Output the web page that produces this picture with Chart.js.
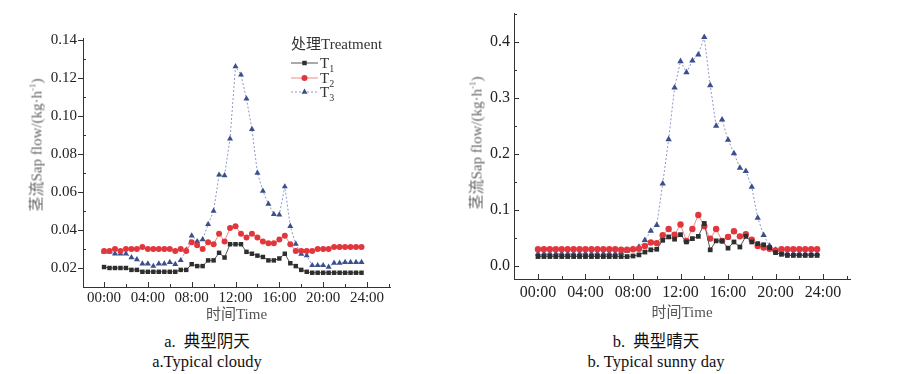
<!DOCTYPE html>
<html>
<head>
<meta charset="utf-8">
<script src="https://cdn.jsdelivr.net/npm/chart.js@4.4.1/dist/chart.umd.min.js"></script>
<style>
  body { margin: 0; background: #fff; width: 916px; height: 374px; position: relative; overflow: hidden;
         font-family: "Liberation Serif", "Times New Roman", "Noto Sans CJK SC", serif; color: #222; }
  .box { position: absolute; }
  .ytitle { position: absolute; white-space: nowrap; font-size: 15px; color: #666;
            transform: translate(-50%, -50%) rotate(-90deg); }
  .ytitle sup { font-size: 9px; }
  .cap { position: absolute; width: 260px; text-align: center; font-size: 16.5px; line-height: 20px; color: #111; }
  .leg { position: absolute; font-size: 15px; line-height: 16px; color: #333; white-space: nowrap; }
  .leg sub { font-size: 10px; }
</style>
</head>
<body>
<div class="box" style="left:0;top:0;width:400px;height:325px"><canvas id="cloudy"></canvas></div>
<div class="box" style="left:440px;top:0;width:440px;height:325px"><canvas id="sunny"></canvas></div>

<div class="ytitle" style="left:35px;top:145px">茎流Sap flow/(kg·h<sup>-1</sup>)</div>
<div class="ytitle" style="left:475px;top:143px">茎流Sap flow/(kg·h<sup>-1</sup>)</div>

<div class="leg" style="left:291px;top:36px">处理Treatment</div>
<div class="leg" style="left:320px;top:55px">T<sub>1</sub></div>
<div class="leg" style="left:320px;top:70px">T<sub>2</sub></div>
<div class="leg" style="left:320px;top:84px">T<sub>3</sub></div>

<div class="cap" style="left:77px;top:332px">a.&nbsp; 典型阴天</div>
<div class="cap" style="left:77px;top:352px">a.Typical cloudy</div>
<div class="cap" style="left:526px;top:332px">b.&nbsp; 典型晴天</div>
<div class="cap" style="left:526px;top:352px">b. Typical sunny day</div>

<script>
// half-hourly sampling times
const times = [
  '00:00','00:30','01:00','01:30','02:00','02:30','03:00','03:30',
  '04:00','04:30','05:00','05:30','06:00','06:30','07:00','07:30',
  '08:00','08:30','09:00','09:30','10:00','10:30','11:00','11:30',
  '12:00','12:30','13:00','13:30','14:00','14:30','15:00','15:30',
  '16:00','16:30','17:00','17:30','18:00','18:30','19:00','19:30',
  '20:00','20:30','21:00','21:30','22:00','22:30','23:00','23:30'
];

// a. typical cloudy day
const cloudyT1 = [
  0.0205,0.020,0.020,0.020,0.020,0.019,0.019,0.018,
  0.018,0.018,0.018,0.018,0.018,0.018,0.019,0.019,
  0.022,0.021,0.021,0.024,0.024,0.028,0.0255,0.0325,
  0.0325,0.0325,0.0285,0.0275,0.0265,0.0258,0.024,0.024,
  0.025,0.0275,0.0225,0.021,0.019,0.018,0.0175,0.0175,
  0.0175,0.0175,0.0175,0.0175,0.0175,0.0175,0.0175,0.0175
];
const cloudyT2 = [
  0.029,0.029,0.030,0.029,0.030,0.030,0.030,0.031,
  0.030,0.030,0.030,0.030,0.030,0.029,0.030,0.029,
  0.0335,0.032,0.030,0.0335,0.0325,0.038,0.034,0.041,
  0.042,0.038,0.036,0.038,0.036,0.034,0.033,0.033,
  0.035,0.037,0.0325,0.029,0.029,0.029,0.029,0.030,
  0.030,0.030,0.031,0.031,0.031,0.031,0.031,0.031
];
const cloudyT3 = [
  0.0285,0.0285,0.0275,0.0275,0.0275,0.0255,0.0245,0.0222,
  0.0222,0.021,0.0222,0.0222,0.023,0.022,0.024,0.0295,
  0.037,0.034,0.035,0.043,0.050,0.069,0.0687,0.088,
  0.126,0.1216,0.109,0.093,0.070,0.0605,0.0537,0.0483,
  0.048,0.0628,0.042,0.0326,0.0273,0.0265,0.0214,0.0214,
  0.0214,0.0205,0.0226,0.0226,0.023,0.023,0.023,0.023
];

// b. typical sunny day
const sunnyT1 = [
  0.017,0.017,0.017,0.017,0.017,0.017,0.017,0.017,
  0.017,0.017,0.017,0.017,0.017,0.017,0.017,0.017,
  0.018,0.020,0.025,0.029,0.030,0.046,0.052,0.048,
  0.056,0.043,0.049,0.053,0.076,0.029,0.045,0.045,
  0.032,0.043,0.034,0.053,0.043,0.040,0.038,0.033,
  0.024,0.021,0.019,0.019,0.019,0.019,0.019,0.019
];
const sunnyT2 = [
  0.030,0.030,0.030,0.030,0.030,0.030,0.030,0.030,
  0.030,0.030,0.030,0.030,0.030,0.030,0.029,0.029,
  0.030,0.031,0.036,0.042,0.041,0.055,0.066,0.056,
  0.074,0.045,0.066,0.091,0.071,0.049,0.066,0.045,
  0.052,0.062,0.053,0.057,0.047,0.036,0.033,0.031,
  0.028,0.030,0.030,0.030,0.030,0.030,0.030,0.030
];
const sunnyT3 = [
  0.022,0.022,0.022,0.022,0.022,0.022,0.022,0.022,
  0.022,0.022,0.022,0.022,0.022,0.022,0.024,0.027,
  0.030,0.034,0.046,0.0625,0.073,0.147,0.226,0.318,
  0.365,0.345,0.366,0.377,0.408,0.322,0.250,0.261,
  0.225,0.201,0.175,0.169,0.141,0.086,0.055,0.036,
  0.029,0.0245,0.022,0.022,0.022,0.022,0.022,0.022
];

// axis ticks
const xTickHours = [0, 4, 8, 12, 16, 20, 24];
const xTickLabels = ['00:00','04:00','08:00','12:00','16:00','20:00','24:00'];
const cloudyYTicks = [0.02, 0.04, 0.06, 0.08, 0.10, 0.12, 0.14];
const sunnyYTicks = [0.0, 0.1, 0.2, 0.3, 0.4];

const hours = times.map(t => { const p = t.split(':'); return +p[0] + p[1] / 60; });
const pts = arr => arr.map((v, i) => ({ x: hours[i], y: v }));

Chart.defaults.font.family = '"Liberation Serif", "Times New Roman", "Noto Sans CJK SC", serif';
Chart.defaults.color = '#222';

const styles = {
  T1: { borderColor: '#555', backgroundColor: '#2e2e2e', pointStyle: 'rect', borderDash: [] },
  T2: { borderColor: '#f08a8a', backgroundColor: '#e2363d', pointStyle: 'circle', borderDash: [] },
  T3: { borderColor: '#8a98c8', backgroundColor: '#3b4f8c', pointStyle: 'triangle', borderDash: [2, 2] }
};

function makeSet(label, data, r) {
  const s = styles[label];
  return {
    label: label,
    data: pts(data),
    borderColor: s.borderColor,
    borderWidth: 1,
    borderDash: s.borderDash,
    pointStyle: s.pointStyle,
    pointRadius: s.pointStyle === 'rect' ? r * 1.05 : (s.pointStyle === 'triangle' ? r * 1.15 : r),
    pointBackgroundColor: s.backgroundColor,
    pointBorderColor: s.backgroundColor,
    pointBorderWidth: 0,
    tension: 0,
    clip: false
  };
}

// ticks drawn inward / outward like the original figure
const tickMarks = {
  id: 'tickMarks',
  afterDraw(chart, args, opts) {
    const ctx = chart.ctx, xs = chart.scales.x, ys = chart.scales.y;
    ctx.save();
    ctx.strokeStyle = '#333';
    ctx.lineWidth = 1;
    ctx.beginPath();
    const yAxis = xs.top;
    for (let h = -2; h <= 26; h += 2) {
      if (h < xs.min || h > xs.max) continue;
      const px = Math.round(xs.getPixelForValue(h)) + 0.5;
      const len = h % 4 === 0 ? 5 : 3;
      ctx.moveTo(px, yAxis);
      ctx.lineTo(px, yAxis - len);
    }
    const xAxis = ys.right;
    const step = opts.step;
    for (let v = opts.first; v <= ys.max + 1e-9; v += step / 2) {
      if (v < ys.min) continue;
      const py = Math.round(ys.getPixelForValue(v)) + 0.5;
      const major = Math.abs(Math.round((v - opts.first) / step) * step - (v - opts.first)) < 1e-9;
      if (major) {
        ctx.moveTo(xAxis, py);
        ctx.lineTo(xAxis + opts.dir * 5, py);
      } else {
        ctx.moveTo(xAxis, py);
        ctx.lineTo(xAxis + 3, py);
      }
    }
    ctx.stroke();
    ctx.restore();
  }
};

// line + marker samples for the legend (text is in the page)
const legendSamples = {
  id: 'legendSamples',
  afterDraw(chart, args, opts) {
    if (!opts.rows) return;
    const ctx = chart.ctx;
    chart.data.datasets.forEach((ds, i) => {
      const y = opts.rows[i];
      ctx.save();
      ctx.strokeStyle = ds.borderColor;
      ctx.lineWidth = 1;
      ctx.setLineDash(ds.borderDash);
      ctx.beginPath();
      ctx.moveTo(opts.x0, y);
      ctx.lineTo(opts.x1, y);
      ctx.stroke();
      ctx.setLineDash([]);
      ctx.fillStyle = ds.pointBackgroundColor;
      ctx.strokeStyle = ds.pointBackgroundColor;
      Chart.helpers.drawPoint(ctx, { pointStyle: ds.pointStyle, radius: ds.pointRadius, rotation: 0, borderWidth: 0 },
        (opts.x0 + opts.x1) / 2, y);
      ctx.restore();
    });
  }
};

function buildChart(id, sets, cfg) {
  return new Chart(document.getElementById(id), {
    type: 'line',
    data: { datasets: sets },
    options: {
      animation: false,
      responsive: true,
      maintainAspectRatio: false,
      layout: { padding: { left: 0, right: cfg.padRight, top: cfg.padTop, bottom: 0 } },
      plugins: {
        legend: { display: false },
        tooltip: { enabled: false },
        tickMarks: { first: cfg.yTicks[0], step: cfg.yTicks[1] - cfg.yTicks[0], dir: cfg.yDir },
        legendSamples: cfg.legend || {}
      },
      scales: {
        x: {
          type: 'linear',
          min: cfg.xMin, max: cfg.xMax,
          grid: { display: false, drawTicks: false, tickLength: 0 },
          border: { display: true, color: '#333', width: 1 },
          afterBuildTicks: s => { s.ticks = xTickHours.map(v => ({ value: v })); },
          afterFit: s => { s.height = cfg.xHeight; },
          ticks: {
            autoSkip: false, maxRotation: 0, padding: cfg.xPad,
            font: { size: cfg.tickSize }, color: '#222',
            callback: v => xTickLabels[xTickHours.indexOf(v)]
          },
          title: { display: true, text: '时间Time', font: { size: 15 }, color: '#555',
                   padding: { top: 0, bottom: cfg.xTitlePad } }
        },
        y: {
          min: cfg.yMin, max: cfg.yMax,
          grid: { display: false, drawTicks: false, tickLength: 0 },
          border: { display: true, color: '#333', width: 1 },
          afterBuildTicks: s => { s.ticks = cfg.yTicks.map(v => ({ value: v })); },
          afterFit: s => { s.width = cfg.yWidth; },
          ticks: {
            padding: cfg.yPad, font: { size: cfg.tickSize }, color: '#222',
            callback: v => v.toFixed(cfg.decimals)
          }
        }
      }
    },
    plugins: [tickMarks, legendSamples]
  });
}

buildChart('cloudy', [
  makeSet('T1', cloudyT1, 3),
  makeSet('T2', cloudyT2, 3),
  makeSet('T3', cloudyT3, 3)
], {
  padRight: 10, padTop: 38, xHeight: 38, yWidth: 83,
  xMin: -1.92, xMax: 26.1, yMin: 0.01, yMax: 0.141,
  yTicks: cloudyYTicks, decimals: 2, yDir: -1,
  tickSize: 15, xPad: 2, yPad: 6, xTitlePad: 1,
  legend: { x0: 291, x1: 318, rows: [63, 78, 92] }
});

buildChart('sunny', [
  makeSet('T1', sunnyT1, 3.2),
  makeSet('T2', sunnyT2, 3.2),
  makeSet('T3', sunnyT3, 3.2)
], {
  padRight: 30, padTop: 8, xHeight: 46, yWidth: 74,
  xMin: -2.02, xMax: 26.27, yMin: -0.023, yMax: 0.45,
  yTicks: sunnyYTicks, decimals: 1, yDir: 1,
  tickSize: 16, xPad: 4, yPad: 4, xTitlePad: 3
});
</script>
</body>
</html>
